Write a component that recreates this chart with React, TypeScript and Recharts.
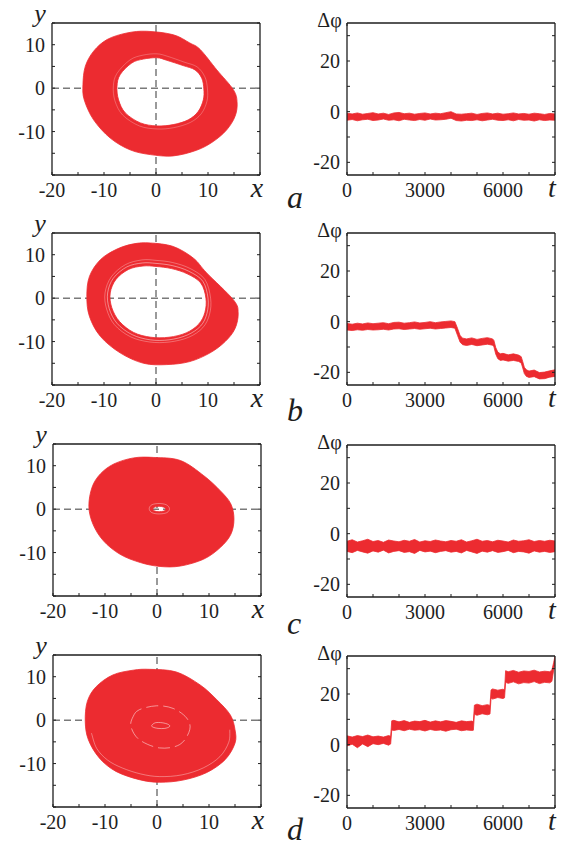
import React from "react";
import { ScatterChart, Scatter, ComposedChart, Area, XAxis, YAxis } from "recharts";

const RED = "#ec2b30";
const INK = "#1e1e1e";
const GREY = "#7a7a7a";
const SERIF = '"Liberation Serif", "DejaVu Serif", serif';

// ---------- phase plane (x, y) ----------
const xTicks = [-20, -15, -10, -5, 0, 5, 10, 15, 20];
const yTicks = [-20, -15, -10, -5, 0, 5, 10, 15];
const xTickText: Record<number, string> = { [-20]: "-20", [-10]: "-10", 0: "0", 10: "10", 20: "x" };
const yTickText: Record<number, string> = { [-10]: "-10", 0: "0", 10: "10" };

const zeroHX = [-20, 20];
const zeroHY = [0, 0];
const zeroVX = [0, 0];
const zeroVY = [-20, 15];

// a: outer / inner edge of the attractor band
const oaX = [-1.8, 3.3, 6.5, 8.5, 11.7, 14.9, 15.6, 15.2, 13.6, 11.0, 7.8, 3.3, -1.1, -5.0, -8.8, -12.0, -13.8, -14.05, -13.6, -12.0, -9.4, -5.6];
const oaY = [13.1, 12.3, 10.4, 8.9, 4.2, -0.4, -3.4, -6.5, -9.6, -12.3, -14.3, -15.6, -15.3, -14.2, -11.5, -7.3, -2.7, 0.8, 5.0, 8.5, 11.2, 12.7];
const iaX = [-2.4, 0.2, 2.1, 5.2, 7.5, 8.8, 9.2, 9.1, 8.1, 6.2, 3.3, 0.2, -3.0, -5.9, -7.2, -7.5, -6.9, -4.65];
const iaY = [6.7, 7.0, 6.4, 5.2, 4.2, 2.3, -0.2, -2.7, -5.4, -7.3, -8.4, -8.7, -8.0, -5.7, -2.7, 0.4, 3.1, 5.8];
const laX = [-2.5, 0.2, 2.3, 5.4, 7.9, 9.4, 9.9, 9.8, 8.7, 6.6, 3.4, 0.2, -3.2, -6.4, -7.9, -8.2, -7.5, -5.0];
const laY = [7.6, 7.9, 7.3, 6.0, 4.9, 2.6, -0.2, -3.0, -5.9, -7.9, -9.1, -9.4, -8.7, -6.2, -2.9, 0.5, 3.4, 6.5];

// b
const obX = [-1.1, 3.3, 7.2, 9.75, 14.9, 15.8, 15.2, 13.3, 10.4, 6.5, 2.1, -2.4, -6.9, -10.7, -12.8, -13.3, -12.8, -10.7, -7.5, -4.3];
const obY = [12.7, 11.9, 9.2, 5.8, -0.4, -3.4, -7.0, -10.0, -12.6, -14.6, -15.3, -15.0, -12.6, -8.8, -4.2, 0.4, 5.0, 8.85, 11.3, 12.5];
const ibX = [-2.5, 0, 3, 6, 8.6, 9.6, 9.4, 8.2, 5.8, 2.5, -1, -4.3, -7.0, -8.5, -8.8, -7.7, -5.3];
const ibY = [7.4, 7.3, 6.8, 5.6, 3.5, 0, -3.3, -6.0, -8.0, -9.0, -9.0, -7.9, -5.4, -2.2, 1.2, 4.3, 6.6];
const lb1X = [-2.6, 0, 3.1, 6.3, 9.0, 10.0, 9.8, 8.6, 6.0, 2.5, -1.1, -4.6, -7.5, -9.0, -9.3, -8.2, -5.6];
const lb1Y = [8.1, 8.0, 7.5, 6.2, 3.9, 0, -3.5, -6.4, -8.5, -9.6, -9.6, -8.4, -5.8, -2.4, 1.2, 4.6, 7.2];
const lb2X = [-2.7, 0, 3.2, 6.6, 9.4, 10.5, 10.3, 9.0, 6.3, 2.6, -1.2, -4.9, -8.0, -9.5, -9.8, -8.6, -5.9];
const lb2Y = [8.8, 8.7, 8.2, 6.8, 4.3, 0, -3.7, -6.8, -9.0, -10.1, -10.1, -8.9, -6.1, -2.5, 1.2, 4.9, 7.7];

// c
const ocX = [-0.6, 4.5, 9.0, 12.2, 14.2, 14.8, 14.2, 12.2, 9.0, 4.5, 0.6, -3.2, -7.1, -10.3, -12.3, -13.1, -12.5, -10.9, -8.3, -4.5];
const ocY = [11.9, 11.2, 7.7, 4.2, 1.2, -2.3, -5.8, -8.8, -11.5, -13.1, -13.2, -12.3, -10.4, -7.3, -3.5, 0.6, 5.0, 8.1, 10.4, 11.8];
const icX = [-0.8, -0.4, 0.4, 1.2, 1.7, 1.3, 0.4, -0.4];
const icY = [0.05, 0.5, 0.65, 0.5, 0.05, -0.45, -0.6, -0.45];
const lcX = [-1.5, -1.0, 0.4, 1.8, 2.4, 1.9, 0.4, -1.0];
const lcY = [0.1, 1.0, 1.3, 1.0, 0.1, -0.8, -1.1, -0.8];

// d
const odX = [-1.4, 3.7, 8.3, 11.5, 14.1, 15.0, 15.0, 13.1, 9.5, 5.0, 0.5, -3.4, -7.9, -11.1, -13.2, -13.8, -13.4, -11.7, -8.5, -4.6];
const odY = [11.7, 11.1, 8.1, 4.7, 1.2, -2.2, -5.3, -9.1, -12.1, -13.8, -14.3, -13.7, -11.8, -8.7, -4.5, -0.3, 4.3, 7.7, 10.4, 11.5];
const ldcX = [-1.0, -0.3, 1.0, 2.2, 2.4, 1.5, 0.2, -0.8];
const ldcY = [-1.2, -0.6, -0.6, -1.0, -1.5, -1.9, -1.9, -1.6];
const ldX = [-4.6, -3.4, -0.1, 3.1, 5.7, 6.3, 4.4, 0.5, -3.4, -5.0];
const ldY = [0.8, 2.4, 3.3, 2.7, 0.5, -2.2, -5.6, -6.4, -4.5, -1.5];
const leX = [-12.6, -11.6, -9.5, -6.7, -3.1, 0.5, 4.8, 8.9, 12.1, 13.8, 14.0];
const leY = [-3.0, -6.5, -9.2, -11.0, -12.4, -13.0, -12.6, -11.0, -8.4, -5.1, -2.2];

// ---------- phase difference vs time ----------
const tTicks = [0, 1000, 2000, 3000, 4000, 5000, 6000, 7000, 8000];
const pTicks = [-20, -10, 0, 10, 20, 30];
const tTickText: Record<number, string> = { 0: "0", 3000: "3000", 6000: "6000", 8000: "t" };
const pTickText: Record<number, string> = { [-20]: "-20", 0: "0", 20: "20" };

const tA = [0, 200, 400, 600, 800, 1000, 1200, 1400, 1600, 1800, 2000, 2200, 2400, 2600, 2800, 3000, 3200, 3400, 3600, 3800, 4000, 4200, 4400, 4600, 4800, 5000, 5200, 5400, 5600, 5800, 6000, 6200, 6400, 6600, 6800, 7000, 7200, 7400, 7600, 7800, 8000];
const hiA = [-0.6, -0.9, -0.5, -1.0, -0.7, -0.4, -0.9, -0.6, -1.1, -0.5, -0.3, -0.8, -0.6, -1.0, -0.7, -0.5, -0.9, -0.6, -0.8, -0.4, 0.0, -0.9, -1.0, -0.8, -0.6, -1.1, -0.7, -0.5, -0.9, -0.6, -1.0, -0.8, -0.5, -0.9, -0.7, -1.0, -0.6, -0.8, -1.1, -0.7, -0.9];
const loA = [-3.4, -3.1, -3.6, -3.2, -3.0, -3.5, -3.3, -2.9, -3.4, -3.2, -3.6, -3.0, -3.3, -3.5, -3.1, -3.4, -2.9, -3.3, -3.2, -3.0, -2.6, -3.5, -3.7, -3.4, -3.5, -3.2, -3.6, -3.3, -3.0, -3.4, -3.5, -3.2, -3.6, -3.1, -3.4, -3.3, -3.7, -3.2, -3.5, -3.3, -3.4];

const tB = [0, 200, 400, 600, 800, 1000, 1200, 1400, 1600, 1800, 2000, 2200, 2400, 2600, 2800, 3000, 3200, 3400, 3600, 3800, 4000, 4150, 4250, 4350, 4450, 4600, 4800, 5000, 5200, 5400, 5600, 5650, 5720, 5800, 5900, 6000, 6200, 6400, 6600, 6700, 6760, 6820, 6900, 7000, 7200, 7400, 7600, 7800, 8000];
const hiB = [-0.7, -1.0, -0.6, -0.9, -0.5, -0.8, -0.6, -0.4, -0.8, -0.3, -0.2, -0.6, -0.4, -0.1, -0.5, -0.3, 0.0, -0.4, -0.1, 0.1, 0.3, 0.0, -2.6, -5.5, -6.5, -6.8, -6.4, -7.0, -6.6, -6.3, -6.8, -7.4, -10.2, -12.0, -12.7, -12.5, -13.1, -12.7, -13.2, -13.8, -15.8, -18.0, -19.0, -19.5, -19.1, -20.1, -19.9, -19.4, -19.0];
const loB = [-3.3, -3.5, -3.2, -3.4, -3.1, -3.3, -3.2, -3.0, -3.3, -2.9, -2.8, -3.1, -2.9, -2.7, -3.0, -2.8, -2.6, -2.9, -2.7, -2.5, -2.3, -2.6, -5.4, -8.1, -9.1, -9.4, -9.0, -9.5, -9.2, -8.9, -9.3, -9.9, -12.8, -14.6, -15.3, -15.1, -15.6, -15.3, -15.7, -16.3, -18.3, -20.5, -21.6, -22.0, -21.7, -22.6, -22.5, -21.9, -21.6];

const tC = [0, 200, 400, 600, 800, 1000, 1200, 1400, 1600, 1800, 2000, 2200, 2400, 2600, 2800, 3000, 3200, 3400, 3600, 3800, 4000, 4200, 4400, 4600, 4800, 5000, 5200, 5400, 5600, 5800, 6000, 6200, 6400, 6600, 6800, 7000, 7200, 7400, 7600, 7800, 8000];
const hiC = [-3.0, -2.4, -3.3, -2.8, -2.2, -3.1, -2.7, -3.4, -2.5, -2.9, -3.2, -2.6, -3.0, -2.3, -3.3, -2.8, -3.1, -2.5, -2.9, -3.2, -2.7, -3.0, -2.4, -3.3, -2.8, -2.2, -3.0, -2.7, -3.2, -2.6, -2.9, -3.3, -2.5, -3.0, -2.8, -2.4, -3.1, -2.7, -3.0, -2.6, -2.9];
const loC = [-7.0, -7.5, -6.6, -7.2, -7.7, -6.8, -7.3, -6.5, -7.6, -7.0, -6.7, -7.4, -7.1, -7.8, -6.6, -7.2, -6.9, -7.5, -7.0, -6.7, -7.3, -7.0, -7.6, -6.6, -7.2, -7.8, -6.9, -7.3, -6.7, -7.4, -7.1, -6.6, -7.5, -7.0, -7.2, -7.7, -6.8, -7.3, -7.0, -7.4, -7.1];

const tD = [0, 200, 400, 600, 800, 1000, 1200, 1400, 1600, 1680, 1720, 1800, 2000, 2200, 2400, 2600, 2800, 3000, 3200, 3400, 3600, 3800, 4000, 4200, 4400, 4600, 4800, 4860, 4900, 5000, 5200, 5400, 5500, 5540, 5600, 5800, 6000, 6060, 6100, 6200, 6400, 6600, 6800, 7000, 7200, 7400, 7600, 7800, 7880, 7950, 8000];
const hiD = [3.5, 3.0, 3.6, 3.2, 3.8, 3.1, 3.4, 3.0, 3.6, 3.3, 9.4, 9.6, 9.0, 9.5, 8.8, 9.3, 9.1, 9.6, 8.9, 9.4, 9.0, 9.5, 9.2, 8.8, 9.4, 9.1, 9.3, 9.0, 15.6, 16.0, 15.4, 15.8, 15.5, 21.6, 22.0, 21.5, 21.9, 21.6, 29.2, 28.8, 29.3, 28.6, 29.1, 28.9, 29.4, 28.7, 29.0, 28.8, 29.5, 32.5, 35.0];
const loD = [-0.5, 0.2, -1.2, 0.3, -0.8, 0.4, 0.0, 0.5, -0.2, 0.3, 5.8, 5.6, 6.0, 5.5, 6.1, 5.7, 5.9, 5.4, 6.0, 5.6, 5.8, 5.3, 5.9, 6.1, 5.5, 5.8, 5.6, 5.7, 12.0, 11.6, 12.2, 11.8, 12.1, 18.4, 18.0, 18.6, 18.2, 18.5, 24.6, 24.2, 24.8, 24.0, 24.5, 24.3, 24.9, 24.1, 24.6, 24.4, 25.0, 29.5, 32.5];

type P = { x: number; y: number };
const pts = (xs: number[], ys: number[]): P[] => xs.map((x, i) => ({ x, y: ys[i] }));
const band = (t: number[], lo: number[], hi: number[]) => t.map((v, i) => ({ t: v, r: [lo[i], hi[i]] }));

// Catmull-Rom through the pixel points Recharts hands to the scatter line
function smooth(p: P[], closed: boolean): string {
  const n = p.length;
  if (n < 2) return "";
  const at = (i: number) => (closed ? p[(i + n) % n] : p[Math.max(0, Math.min(n - 1, i))]);
  let d = `M${p[0].x},${p[0].y}`;
  const segs = closed ? n : n - 1;
  for (let i = 0; i < segs; i++) {
    const p0 = at(i - 1), p1 = at(i), p2 = at(i + 1), p3 = at(i + 2);
    const c1x = p1.x + (p2.x - p0.x) / 6, c1y = p1.y + (p2.y - p0.y) / 6;
    const c2x = p2.x - (p3.x - p1.x) / 6, c2y = p2.y - (p3.y - p1.y) / 6;
    d += `C${c1x},${c1y} ${c2x},${c2y} ${p2.x},${p2.y}`;
  }
  return closed ? d + "Z" : d;
}

const Nothing = () => <g />;

const textProps = { fontFamily: SERIF, fill: INK };

function bottomTick(labels: Record<number, string>, italicVal: number) {
  return (p: any) => {
    const v = p.payload.value;
    const s = labels[v];
    const it = v === italicVal;
    return (
      <g>
        <line x1={p.x} x2={p.x} y1={p.y} y2={p.y - 3} stroke={INK} strokeWidth={1} />
        {s !== undefined && (
          <text
            x={it ? p.x - 3 : p.x}
            y={p.y + 22}
            textAnchor="middle"
            fontSize={it ? 28 : 20}
            fontStyle={it ? "italic" : "normal"}
            {...textProps}
          >
            {s}
          </text>
        )}
      </g>
    );
  };
}

function leftTick(labels: Record<number, string>) {
  return (p: any) => {
    const s = labels[p.payload.value];
    return (
      <g>
        <line x1={p.x} x2={p.x + 3} y1={p.y} y2={p.y} stroke={INK} strokeWidth={1} />
        {s !== undefined && (
          <text x={p.x - 7} y={p.y} dy="0.35em" textAnchor="end" fontSize={20} {...textProps}>
            {s}
          </text>
        )}
      </g>
    );
  };
}

const topTick = (p: any) => <line x1={p.x} x2={p.x} y1={p.y} y2={p.y + 3} stroke={INK} strokeWidth={1} />;
const rightTick = (p: any) => <line x1={p.x - 3} x2={p.x} y1={p.y} y2={p.y} stroke={INK} strokeWidth={1} />;

const frame = { stroke: INK, strokeWidth: 1.3 };

interface Loop { xs: number[]; ys: number[]; closed: boolean; dash?: string; w?: number; op?: number }
interface PhaseProps {
  outer: [number[], number[]];
  inner?: [number[], number[]];
  white: Loop[];
}

// every axis is 1px thick (Recharts skips axes of size 0); margins make up for it
function PhasePlot({ outer, inner, white }: PhaseProps) {
  const nOut = outer[0].length;
  const body = inner ? [...pts(outer[0], outer[1]), ...pts(inner[0], inner[1])] : pts(outer[0], outer[1]);
  const bodyLine = (lp: any) => {
    const q: P[] = lp.points;
    const d = smooth(q.slice(0, nOut), true) + (inner ? smooth(q.slice(nOut), true) : "");
    return <path d={d} fill={RED} fillRule="evenodd" stroke={RED} strokeWidth={0.8} />;
  };
  return (
    <ScatterChart width={280} height={210} margin={{ top: 22, right: 19, bottom: 34, left: 51 }}>
      <XAxis type="number" dataKey="x" domain={[-20, 20]} ticks={xTicks} interval={0} height={1} tickSize={0} tickMargin={0}
        tickLine={false} axisLine={frame} tick={bottomTick(xTickText, 20)} allowDataOverflow />
      <XAxis xAxisId="top" orientation="top" type="number" domain={[-20, 20]} ticks={xTicks} interval={0} height={1} tickSize={0}
        tickMargin={0} tickLine={false} axisLine={frame} tick={topTick} allowDataOverflow />
      <YAxis type="number" dataKey="y" domain={[-20, 15]} ticks={yTicks} interval={0} width={1} tickSize={0} tickMargin={0}
        tickLine={false} axisLine={frame} tick={leftTick(yTickText)} allowDataOverflow />
      <YAxis yAxisId="right" orientation="right" type="number" domain={[-20, 15]} ticks={yTicks} interval={0} width={1} tickSize={0}
        tickMargin={0} tickLine={false} axisLine={frame} tick={rightTick} allowDataOverflow />
      <Scatter data={pts(zeroHX, zeroHY)} shape={Nothing} isAnimationActive={false}
        line={{ stroke: GREY, strokeWidth: 1.5, strokeDasharray: "7 4", fill: "none" }} />
      <Scatter data={pts(zeroVX, zeroVY)} shape={Nothing} isAnimationActive={false}
        line={{ stroke: GREY, strokeWidth: 1.5, strokeDasharray: "7 4", fill: "none" }} />
      <Scatter data={body} shape={Nothing} fill={RED} isAnimationActive={false} line={bodyLine} />
      {white.map((w, i) => (
        <Scatter key={i} data={pts(w.xs, w.ys)} shape={Nothing} isAnimationActive={false}
          line={(lp: any) => (
            <path d={smooth(lp.points, w.closed)} fill="none" stroke="#ffffff" strokeWidth={w.w ?? 0.6}
              strokeOpacity={w.op ?? 0.7} strokeDasharray={w.dash} />
          )} />
      ))}
    </ScatterChart>
  );
}

function PhaseDiff({ data }: { data: { t: number; r: number[] }[] }) {
  return (
    <ComposedChart width={283} height={210} data={data} margin={{ top: 22, right: 7, bottom: 34, left: 66 }}>
      <XAxis type="number" dataKey="t" domain={[0, 8000]} ticks={tTicks} interval={0} height={1} tickSize={0} tickMargin={0}
        tickLine={false} axisLine={frame} tick={bottomTick(tTickText, 8000)} allowDataOverflow />
      <XAxis xAxisId="top" orientation="top" type="number" domain={[0, 8000]} ticks={tTicks} interval={0} height={1} tickSize={0}
        tickMargin={0} tickLine={false} axisLine={frame} tick={topTick} allowDataOverflow />
      <YAxis type="number" domain={[-25, 35]} ticks={pTicks} interval={0} width={1} tickSize={0} tickMargin={0}
        tickLine={false} axisLine={frame} tick={leftTick(pTickText)} allowDataOverflow />
      <YAxis yAxisId="right" orientation="right" type="number" domain={[-25, 35]} ticks={pTicks} interval={0} width={1}
        tickSize={0} tickMargin={0} tickLine={false} axisLine={frame} tick={rightTick} allowDataOverflow />
      <Area dataKey="r" type="linear" stroke={RED} strokeWidth={0.8} fill={RED} fillOpacity={1} dot={false} activeDot={false}
        isAnimationActive={false} />
    </ComposedChart>
  );
}

const rows = [
  {
    letter: "a", top: 0, rTop: 0, shift: 0,
    phase: <PhasePlot outer={[oaX, oaY]} inner={[iaX, iaY]} white={[{ xs: laX, ys: laY, closed: true, w: 0.5, op: 0.5 }]} />,
    diff: band(tA, loA, hiA),
  },
  {
    letter: "b", top: 210, rTop: 210, shift: 0,
    phase: (
      <PhasePlot outer={[obX, obY]} inner={[ibX, ibY]} white={[
        { xs: lb1X, ys: lb1Y, closed: true, op: 0.75 },
        { xs: lb2X, ys: lb2Y, closed: true, w: 0.5, op: 0.6 },
      ]} />
    ),
    diff: band(tB, loB, hiB),
  },
  {
    letter: "c", top: 421, rTop: 422, shift: 1,
    phase: <PhasePlot outer={[ocX, ocY]} inner={[icX, icY]} white={[{ xs: lcX, ys: lcY, closed: true, w: 0.5 }]} />,
    diff: band(tC, loC, hiC),
  },
  {
    letter: "d", top: 632, rTop: 633, shift: 1,
    phase: (
      <PhasePlot outer={[odX, odY]} white={[
        { xs: ldcX, ys: ldcY, closed: true, w: 0.7 },
        { xs: ldX, ys: ldY, closed: true, w: 0.7, dash: "12 5" },
        { xs: leX, ys: leY, closed: false, w: 0.6, op: 0.6 },
      ]} />
    ),
    diff: band(tD, loD, hiD),
  },
];
const letterBase = [208, 421, 634, 840];

export default function App() {
  return (
    <div style={{ position: "absolute", left: 0, top: 0, width: 563, height: 846, background: "#fff", overflow: "hidden" }}>
      {rows.map((r) => (
        <React.Fragment key={r.letter}>
          <div style={{ position: "absolute", left: r.shift, top: r.top }}>{r.phase}</div>
          <div style={{ position: "absolute", left: 280, top: r.rTop }}>
            <PhaseDiff data={r.diff} />
          </div>
        </React.Fragment>
      ))}
      <svg width={563} height={846} style={{ position: "absolute", left: 0, top: 0, pointerEvents: "none" }}>
        {rows.map((r, i) => (
          <g key={r.letter}>
            <text x={40 + r.shift} y={r.top + 22} textAnchor="middle" fontSize={26} fontStyle="italic" {...textProps}>y</text>
            <text x={329.5} y={r.rTop + 27} textAnchor="middle" fontSize={20} {...textProps}>Δφ</text>
            <text x={287} y={letterBase[i]} fontSize={32} fontStyle="italic" {...textProps}>{r.letter}</text>
          </g>
        ))}
      </svg>
    </div>
  );
}
